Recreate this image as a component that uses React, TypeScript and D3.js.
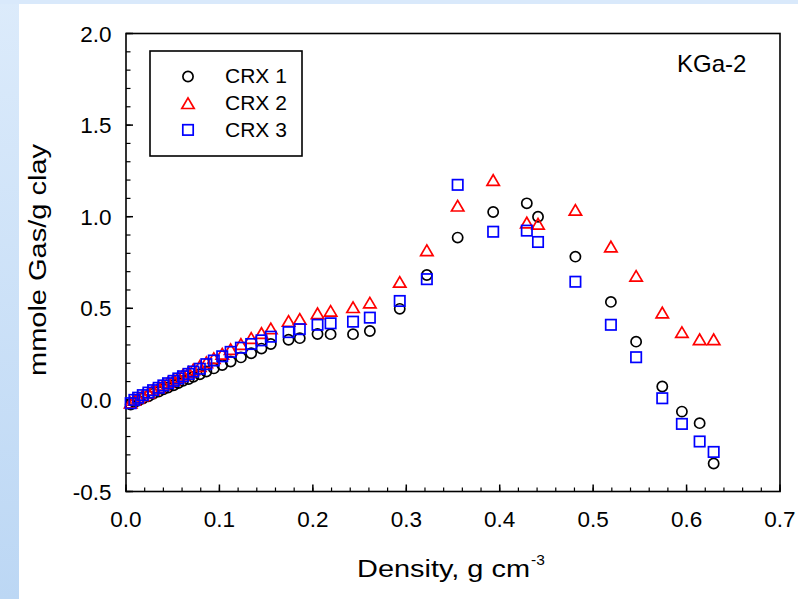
import React from "react";
import * as d3 from "d3";

const density = [0.005, 0.009, 0.013, 0.018, 0.024, 0.029, 0.035, 0.040, 0.045, 0.051, 0.056, 0.061, 0.067, 0.072, 0.079, 0.086, 0.094, 0.103, 0.112, 0.123, 0.134, 0.145, 0.155, 0.174, 0.186, 0.205, 0.219, 0.243, 0.261, 0.293, 0.322, 0.355, 0.393, 0.429, 0.441, 0.481, 0.519, 0.546, 0.574, 0.595, 0.614, 0.629];

const crx1 = [-0.025, -0.012, -0.003, 0.008, 0.02, 0.033, 0.045, 0.058, 0.068, 0.08, 0.092, 0.104, 0.114, 0.126, 0.14, 0.155, 0.172, 0.19, 0.21, 0.232, 0.255, 0.28, 0.305, 0.328, 0.337, 0.36, 0.359, 0.359, 0.376, 0.497, 0.682, 0.886, 1.026, 1.073, 1.0, 0.782, 0.535, 0.318, 0.073, -0.064, -0.127, -0.347];

const crx2 = [-0.015, 0.0, 0.012, 0.025, 0.04, 0.055, 0.07, 0.083, 0.097, 0.11, 0.125, 0.138, 0.152, 0.166, 0.185, 0.205, 0.228, 0.252, 0.277, 0.305, 0.338, 0.365, 0.39, 0.431, 0.442, 0.473, 0.486, 0.506, 0.531, 0.644, 0.817, 1.06, 1.2, 0.968, 0.961, 1.037, 0.837, 0.677, 0.477, 0.37, 0.331, 0.331];

const crx3 = [-0.018, 0.0, 0.012, 0.026, 0.04, 0.053, 0.066, 0.079, 0.091, 0.104, 0.117, 0.129, 0.142, 0.155, 0.17, 0.195, 0.215, 0.238, 0.262, 0.285, 0.305, 0.325, 0.345, 0.37, 0.386, 0.41, 0.418, 0.427, 0.449, 0.54, 0.659, 1.174, 0.918, 0.924, 0.862, 0.645, 0.41, 0.233, 0.009, -0.131, -0.227, -0.284];

const seriesNames = ["CRX 1", "CRX 2", "CRX 3"];
const xTicks = [0.0, 0.1, 0.2, 0.3, 0.4, 0.5, 0.6, 0.7];
const yTicks = [-0.5, 0.0, 0.5, 1.0, 1.5, 2.0];
const sampleLabel = "KGa-2";
const xTitle = "Density, g cm";
const xTitleSup = "-3";
const yTitle = "mmole Gas/g clay";

const FONT = "'Liberation Sans', Arial, sans-serif";
const fmt = (v: number) => d3.format(".1f")(v).replace("\u2212", "-");

function Marker({ kind, cx, cy }: { kind: number; cx: number; cy: number }) {
  if (kind === 0) {
    return <circle cx={cx} cy={cy} r={5.1} fill="none" stroke="#000" strokeWidth={1.7} />;
  }
  if (kind === 1) {
    const p = `M${cx},${cy - 5.3}L${cx + 6.2},${cy + 5.3}L${cx - 6.2},${cy + 5.3}Z`;
    return <path d={p} fill="none" stroke="#ff0000" strokeWidth={1.7} strokeLinejoin="miter" />;
  }
  return <rect x={cx - 5.2} y={cy - 5.2} width={10.4} height={10.4} fill="none" stroke="#0000ff" strokeWidth={1.7} />;
}

export default function App() {
  const x = d3.scaleLinear().domain([0, 0.7]).range([126, 780]);
  const y = d3.scaleLinear().domain([-0.5, 2.0]).range([491.5, 33.5]);
  const xMinor = d3.range(0, 0.7001, 0.02);
  const yMinor = d3.range(-0.5, 2.0001, 0.1);
  const all = [crx1, crx2, crx3];

  return (
    <svg
      width={798}
      height={599}
      style={{ position: "fixed", left: 0, top: 0, display: "block" }}
      fontFamily={FONT}
    >
      <defs>
        <linearGradient id="bg" x1="0" y1="0" x2="0" y2="1">
          <stop offset="0" stopColor="#dcebfb" />
          <stop offset="1" stopColor="#bcd7f4" />
        </linearGradient>
      </defs>
      <rect x={0} y={0} width={798} height={599} fill="url(#bg)" />
      <rect x={0} y={0} width={798} height={4} fill="#d9e9fb" />
      <rect x={19} y={4} width={779} height={595} fill="#ffffff" />

      {/* minor ticks */}
      {xMinor.map((v, i) => (
        <line key={"xm" + i} x1={x(v)} x2={x(v)} y1={491.5} y2={487.5} stroke="#000" strokeWidth={1.2} />
      ))}
      {yMinor.map((v, i) => (
        <line key={"ym" + i} x1={126} x2={130.5} y1={y(v)} y2={y(v)} stroke="#000" strokeWidth={1.2} />
      ))}
      {xTicks.map((v, i) => (
        <line key={"xM" + i} x1={x(v)} x2={x(v)} y1={491.5} y2={484.5} stroke="#000" strokeWidth={1.5} />
      ))}
      {yTicks.map((v, i) => (
        <line key={"yM" + i} x1={126} x2={133} y1={y(v)} y2={y(v)} stroke="#000" strokeWidth={1.5} />
      ))}

      {/* frame */}
      <rect x={126} y={33.5} width={654} height={458} fill="none" stroke="#000" strokeWidth={1.6} />

      {/* tick labels */}
      {xTicks.map((v, i) => (
        <text key={"xl" + i} x={x(v)} y={526.5} fontSize={22.5} textAnchor="middle" fill="#000">
          {fmt(v)}
        </text>
      ))}
      {yTicks.map((v, i) => (
        <text key={"yl" + i} x={111.5} y={y(v) + 8} fontSize={22.5} textAnchor="end" fill="#000">
          {fmt(v)}
        </text>
      ))}

      {/* axis titles */}
      <text x={357} y={577.3} fontSize={23.5} textLength={173} lengthAdjust="spacingAndGlyphs" fill="#000">
        {xTitle}
      </text>
      <text x={531} y={565} fontSize={15.5} fill="#000">
        {xTitleSup}
      </text>
      <text
        transform="translate(46,376) rotate(-90)"
        x={0}
        y={0}
        fontSize={23.5}
        textLength={232}
        lengthAdjust="spacingAndGlyphs"
        fill="#000"
      >
        {yTitle}
      </text>

      {/* sample label */}
      <text x={677} y={72.3} fontSize={24} fill="#000">
        {sampleLabel}
      </text>

      {/* data */}
      {all.map((vals, s) => (
        <g key={"s" + s}>
          {vals.map((v, i) => (
            <Marker key={i} kind={s} cx={x(density[i])} cy={y(v)} />
          ))}
        </g>
      ))}

      {/* legend */}
      <rect x={150} y={51} width={152} height={105} fill="#fff" stroke="#000" strokeWidth={1.6} />
      {seriesNames.map((n, i) => (
        <g key={"lg" + i}>
          <Marker kind={i} cx={188} cy={76.5 + i * 26.7} />
          <text x={225} y={83.3 + i * 26.7} fontSize={21} fill="#000">
            {n}
          </text>
        </g>
      ))}
    </svg>
  );
}
